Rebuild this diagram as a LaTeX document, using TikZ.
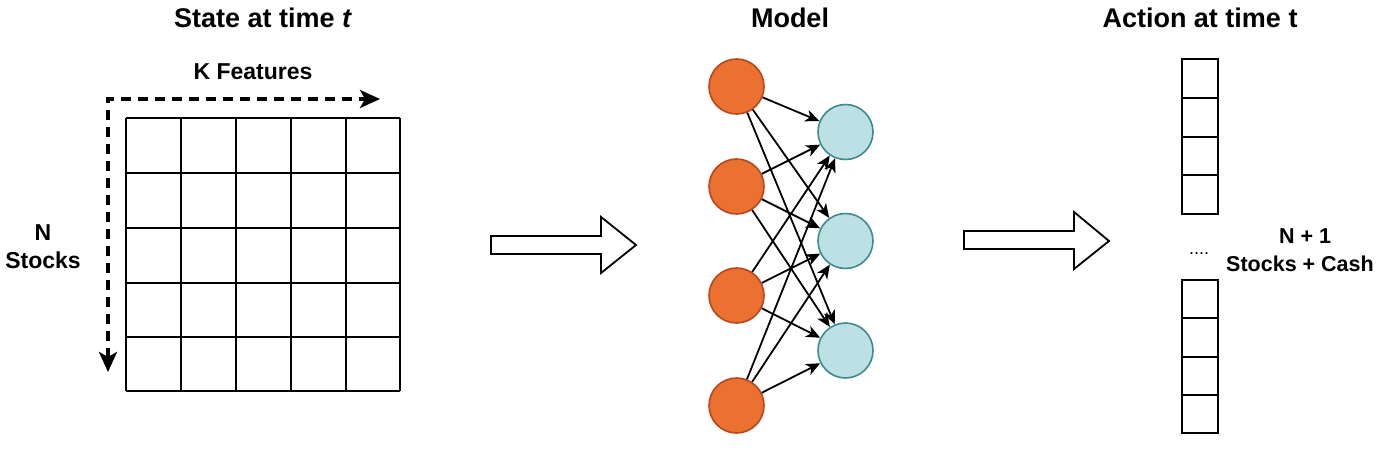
\documentclass[tikz,border=0pt]{standalone}
\usepackage{fontspec}
\setmainfont{Liberation Sans}
\usetikzlibrary{arrows.meta}
\definecolor{orfill}{RGB}{234,113,48}
\definecolor{orline}{RGB}{184,70,30}
\definecolor{cyfill}{RGB}{187,225,228}
\definecolor{cyline}{RGB}{64,137,141}
\tikzset{
  title/.style={anchor=base,inner sep=0pt,font=\bfseries\fontsize{27}{32}\selectfont},
  lbl/.style={anchor=base,inner sep=0pt,font=\bfseries\fontsize{23}{28}\selectfont},
  slbl/.style={anchor=base,inner sep=0pt,font=\bfseries\fontsize{21.5}{26}\selectfont},
  inneur/.style={circle,minimum size=55pt,inner sep=0pt,fill=orfill,draw=orline,line width=1.6pt},
  outneur/.style={circle,minimum size=55pt,inner sep=0pt,fill=cyfill,draw=cyline,line width=1.6pt},
  edge/.style={line width=1.8pt,-{Stealth[length=14pt,width=12pt,inset=4pt]}},
  gridline/.style={line width=2pt},
  dashline/.style={line width=3.5pt,dash pattern=on 10pt off 7pt},
  blockarrow/.style={draw,line width=1.8pt,fill=white,line join=miter},
  cell/.style={draw,line width=2pt}
}
\begin{document}
\begin{tikzpicture}[x=1pt,y=-1pt]
\useasboundingbox (0,0) rectangle (1384,452);
% titles
\node[title] (t1) at (263,28) {State at time \textit{t}};
\node[title] (t2) at (790,28) {Model};
\node[title] (t3) at (1200,28) {Action at time t};
% labels
\node[lbl] (kf) at (253,80) {K Features};
\node[lbl] (n1) at (43,240) {N};
\node[lbl] (n2) at (43,268) {Stocks};
% grid
\foreach \x in {126,181,236,291,346,400}
  \draw[gridline] (\x,118) -- (\x,391);
\foreach \y in {118,173,228,283,337,391}
  \draw[gridline] (126,\y) -- (400,\y);
% dashed arrows
\coordinate (vtip) at (108,372);
\coordinate (corner) at (108,99);
\coordinate (htip) at (380,99);
\draw[dashline,{Stealth[length=20pt,width=18pt,inset=5pt]}-{Stealth[length=20pt,width=18pt,inset=5pt]}] (vtip) -- (corner) -- (htip);
% block arrows
\draw[blockarrow] (491,236) -- (601,236) -- (601,217) -- (636,245) -- (601,273) -- (601,254) -- (491,254) -- cycle;
\draw[blockarrow] (964,231) -- (1074,231) -- (1074,212) -- (1109,241) -- (1074,269) -- (1074,249) -- (964,249) -- cycle;
% neurons
\node[inneur] (o1) at (736.5,86.5) {};
\node[inneur] (o2) at (736.5,186.5) {};
\node[inneur] (o3) at (736.5,295.5) {};
\node[inneur] (o4) at (736.5,405.5) {};
\node[outneur] (c1) at (845.5,132) {};
\node[outneur] (c2) at (845.5,241) {};
\node[outneur] (c3) at (845.5,350.5) {};
\foreach \i in {1,...,4} \foreach \j in {1,2,3} \draw[edge] (o\i) -- (c\j);
% action column
\draw[cell] (1182,59) rectangle (1218,214);
\foreach \y in {98,137,175} \draw[cell] (1182,\y) -- (1218,\y);
\draw[cell] (1182,280) rectangle (1218,433);
\foreach \y in {318,357,395} \draw[cell] (1182,\y) -- (1218,\y);
\node[anchor=base,inner sep=0pt,font=\fontsize{18}{20}\selectfont] (dots) at (1199,254) {....};
\node[slbl] (np1) at (1305,243) {N + 1};
\node[slbl] (sc) at (1300,271) {Stocks + Cash};
\end{tikzpicture}
\end{document}
